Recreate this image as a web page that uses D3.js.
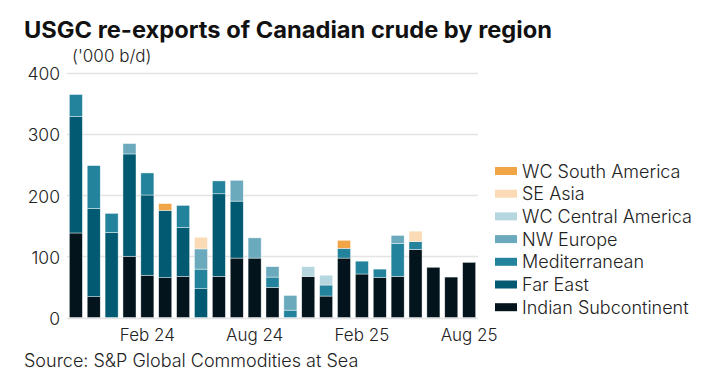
<!DOCTYPE html>
<html>
<head>
<meta charset="utf-8">
<script src="https://cdn.jsdelivr.net/npm/d3@7"></script>
<style>
  body { margin: 0; background: #fff; }
  text { font-family: Inter, Roboto, "Liberation Sans", sans-serif; }
</style>
</head>
<body>
<div id="chart"></div>
<script>
// months Oct 23 .. Aug 25
var months = ["Oct 23","Nov 23","Dec 23","Jan 24","Feb 24","Mar 24","Apr 24","May 24","Jun 24","Jul 24","Aug 24","Sep 24",
  "Oct 24","Nov 24","Dec 24","Jan 25","Feb 25","Mar 25","Apr 25","May 25","Jun 25","Jul 25","Aug 25"];

// series, bottom to top
var indianSub   = [138, 34,   0, 100, 69, 65, 67,  0, 67, 97, 97, 49,  0, 67, 35, 97, 71, 65, 67, 111, 82, 66, 90];
var farEast     = [190, 144, 139, 167, 131, 110, 80, 47, 135, 93, 0, 0, 0, 0, 0, 0, 0, 0, 0, 0, 0, 0, 0];
var mediterr    = [36, 70, 31, 0, 36, 0, 36, 32, 21, 0, 0, 17, 12, 0, 18, 16, 21, 14, 54, 13, 0, 0, 0];
var nwEurope    = [0, 0, 0, 17, 0, 0, 0, 33, 0, 34, 33, 17, 24, 0, 0, 0, 0, 0, 13, 0, 0, 0, 0];
var wcCentralAm = [0, 0, 0, 0, 0, 0, 0, 0, 0, 0, 0, 0, 0, 16, 16, 0, 0, 0, 0, 0, 0, 0, 0];
var seAsia      = [0, 0, 0, 0, 0, 0, 0, 19, 0, 0, 0, 0, 0, 0, 0, 0, 0, 0, 0, 17, 0, 0, 0];
var wcSouthAm   = [0, 0, 0, 0, 0, 11, 0, 0, 0, 0, 0, 0, 0, 0, 0, 13, 0, 0, 0, 0, 0, 0, 0];

var seriesNames = ["Indian Subcontinent","Far East","Mediterranean","NW Europe","WC Central America","SE Asia","WC South America"];
var seriesVals = [indianSub, farEast, mediterr, nwEurope, wcCentralAm, seAsia, wcSouthAm];
var colors = ["#03141c","#015a72","#24839c","#6aaabc","#b6d6df","#fbdab6","#f1a546"];

var yTicks = [0, 100, 200, 300, 400];
var xTickLabels = {"Feb 24":"Feb 24","Aug 24":"Aug 24","Feb 25":"Feb 25","Aug 25":"Aug 25"};

var W = 719, H = 377;
var svg = d3.select("#chart").append("svg")
  .attr("width", W).attr("height", H);

// build rows for the stack
var rows = months.map(function(m, i) {
  var r = {month: m};
  seriesNames.forEach(function(s, j) { r[s] = seriesVals[j][i]; });
  return r;
});
var stacked = d3.stack().keys(seriesNames)(rows);

var x = d3.scaleBand().domain(months).range([67, 478]).paddingInner(0.27).paddingOuter(0.13);
var y = d3.scaleLinear().domain([0, 400]).range([317.5, 72.5]);

// title
svg.append("text")
  .attr("x", 24).attr("y", 38)
  .attr("textLength", 528).attr("lengthAdjust", "spacingAndGlyphs")
  .style("font-size", "22.5px").style("font-weight", "700").style("fill", "#111")
  .text("USGC re-exports of Canadian crude by region");

svg.append("text")
  .attr("x", 72).attr("y", 62)
  .style("font-size", "17px").style("font-weight", "300").style("fill", "#222")
  .text("('000 b/d)");

// gridlines
svg.append("g").selectAll("line")
  .data(yTicks)
  .enter().append("line")
  .attr("x1", 67).attr("x2", 478)
  .attr("y1", function(d) { return Math.round(y(d)) + 0.5; })
  .attr("y2", function(d) { return Math.round(y(d)) + 0.5; })
  .style("stroke", "#e4e4e4").style("stroke-width", 1.5);

// y labels
svg.append("g").selectAll("text")
  .data(yTicks)
  .enter().append("text")
  .attr("x", 60).attr("y", function(d) { return y(d) + 7.5; })
  .attr("text-anchor", "end")
  .style("font-size", "17.5px").style("font-weight", "300").style("fill", "#222")
  .text(function(d) { return d; });

// bars
var layer = svg.append("g").selectAll("g")
  .data(stacked)
  .enter().append("g")
  .style("fill", function(d, i) { return colors[i]; });

layer.selectAll("rect")
  .data(function(d) { return d.filter(function(p) { return p[1] - p[0] > 0; }); })
  .enter().append("rect")
  .attr("x", function(d) { return x(d.data.month); })
  .attr("y", function(d) { return y(d[1]); })
  .attr("width", x.bandwidth())
  .attr("height", function(d) { return y(d[0]) - y(d[1]); })
  .style("stroke", "#fff").style("stroke-width", 0.6).style("stroke-opacity", 0.7);

// x labels
svg.append("g").selectAll("text")
  .data(months.filter(function(m) { return xTickLabels[m]; }))
  .enter().append("text")
  .attr("x", function(d) { return x(d) + x.bandwidth() / 2; })
  .attr("y", 341)
  .attr("text-anchor", "middle")
  .style("font-size", "17px").style("font-weight", "300").style("fill", "#222")
  .text(function(d) { return xTickLabels[d]; });

// legend, top entry = last series
var legendOrder = seriesNames.slice().reverse();
var leg = svg.append("g").selectAll("g")
  .data(legendOrder)
  .enter().append("g")
  .attr("transform", function(d, i) { return "translate(495," + (171 + i * 22.7) + ")"; });
leg.append("rect")
  .attr("x", 0).attr("y", -4).attr("width", 22).attr("height", 8)
  .style("fill", function(d) { return colors[seriesNames.indexOf(d)]; });
leg.append("text")
  .attr("x", 27).attr("y", 6.5)
  .style("font-size", "18px").style("font-weight", "300").style("fill", "#222")
  .text(function(d) { return d; });

svg.append("text")
  .attr("x", 24).attr("y", 367)
  .style("font-size", "18px").style("font-weight", "300").style("fill", "#222")
  .text("Source: S&P Global Commodities at Sea");
</script>
</body>
</html>
